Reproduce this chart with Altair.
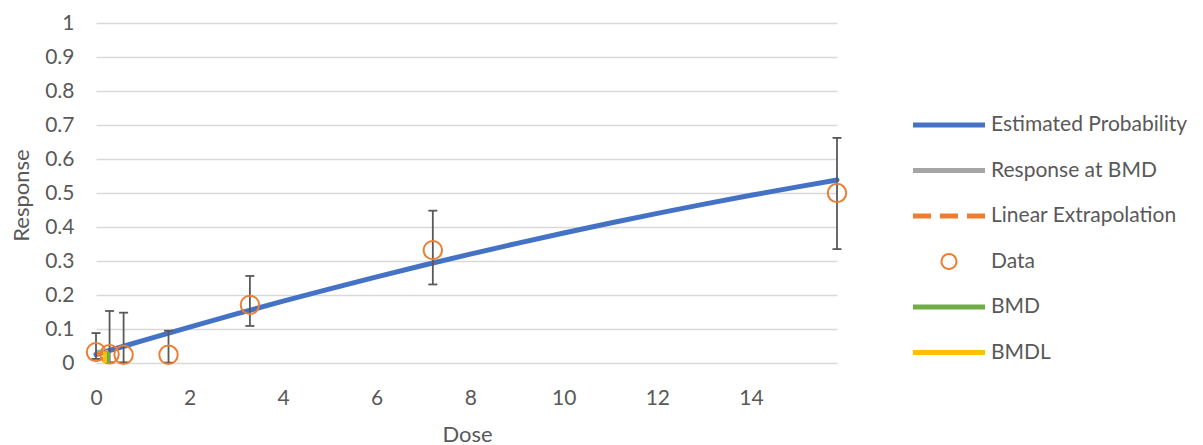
import altair as alt
import pandas as pd

# ---- observed data (dose-response) ----
data_dose = [0, 0.29, 0.59, 1.55, 3.29, 7.2, 15.84]
data_resp = [0.032, 0.026, 0.024, 0.024, 0.171, 0.332, 0.5]
data_lower = [0.012, 0.002, 0.002, 0.001, 0.109, 0.231, 0.335]
data_upper = [0.088, 0.153, 0.148, 0.095, 0.256, 0.448, 0.662]

# ---- fitted curve ----
curve_dose = [0, 0.5, 1, 2, 3, 4, 5, 6, 7, 8, 9, 10, 11, 12, 13, 14, 15, 15.84]
curve_resp = [0.025, 0.0456, 0.0659, 0.1057, 0.1444, 0.1818, 0.2182, 0.2533, 0.2874,
              0.3202, 0.3519, 0.3825, 0.4119, 0.4402, 0.4673, 0.4932, 0.5181, 0.538]

# ---- BMD markers ----
bmr_dose = [0, 0.26]
bmr_resp = [0.033, 0.033]
extrap_dose = [0, 0.19]
extrap_resp = [0.025, 0.033]
bmd_dose = [0.26, 0.26]
bmd_resp = [0, 0.033]
bmdl_dose = [0.19, 0.19]
bmdl_resp = [0, 0.033]

series_names = ["Estimated Probability", "Response at BMD", "Linear Extrapolation",
                "Data", "BMD", "BMDL"]
series_colors = ["#4472C4", "#A5A5A5", "#ED7D31", "#ED7D31", "#70AD47", "#FFC000"]

x_ticks = [0, 2, 4, 6, 8, 10, 12, 14]
y_ticks = [0, 0.1, 0.2, 0.3, 0.4, 0.5, 0.6, 0.7, 0.8, 0.9, 1]

FONT = "Lato"
TXT = "#595959"

# legend symbol shapes (style only)
LINE = "M-3,-0.2H3V0.2H-3Z"
DASH = "M-3,-0.2H-1.5V0.2H-3Z M-0.75,-0.2H0.75V0.2H-0.75Z M1.5,-0.2H3V0.2H1.5Z"
RING = ("M-0.708,0A0.708,0.708,0,1,1,0.708,0A0.708,0.708,0,1,1,-0.708,0Z "
        "M-0.542,0A0.542,0.542,0,1,0,0.542,0A0.542,0.542,0,1,0,-0.542,0Z")
series_shapes = [LINE, LINE, DASH, RING, LINE, LINE]

x_scale = alt.Scale(domain=[0, 15.84], nice=False, zero=False)
y_scale = alt.Scale(domain=[0, 1], nice=False)

x_axis = alt.Axis(values=x_ticks, grid=False, domain=False, ticks=False, tickSize=0,
                  labelFont=FONT, labelFontSize=21, labelColor=TXT, labelPadding=24,
                  labelFlush=False, labelOverlap=False,
                  titleFont=FONT, titleFontSize=22, titleColor=TXT, titleFontWeight="normal",
                  titleX=371, titleY=78, titleBaseline="alphabetic", titleAlign="center")
y_axis = alt.Axis(values=y_ticks, format="~g", grid=True, gridColor="#d9d9d9", gridWidth=1.3,
                  domain=False, ticks=False, tickSize=0,
                  labelFont=FONT, labelFontSize=21, labelColor=TXT, labelPadding=22,
                  labelFlush=False, labelOverlap=False,
                  titleFont=FONT, titleFontSize=22, titleColor=TXT, titleFontWeight="normal",
                  titleX=-68, titleY=172, titleBaseline="alphabetic", titleAlign="center",
                  titleAngle=270)


def X(field):
    return alt.X(f"{field}:Q", scale=x_scale, axis=x_axis, title="Dose")


def Y(field):
    return alt.Y(f"{field}:Q", scale=y_scale, axis=y_axis, title="Response")


def line_df(xs, ys):
    return pd.DataFrame({"dose": xs, "resp": ys, "o": list(range(len(xs)))})


pts = pd.DataFrame({"dose": data_dose, "resp": data_resp, "lo": data_lower, "hi": data_upper})

curve = alt.Chart(line_df(curve_dose, curve_resp)).mark_line(
    color="#4472C4", strokeWidth=5, strokeCap="round", interpolate="monotone").encode(
    x=X("dose"), y=Y("resp"), order="o:Q")

bmr = alt.Chart(line_df(bmr_dose, bmr_resp)).mark_line(
    color="#A5A5A5", strokeWidth=4).encode(x=X("dose"), y=Y("resp"), order="o:Q")

extrap = alt.Chart(line_df(extrap_dose, extrap_resp)).mark_line(
    color="#ED7D31", strokeWidth=4, strokeDash=[8, 4]).encode(x=X("dose"), y=Y("resp"), order="o:Q")

err = alt.Chart(pts).mark_rule(color="#595959", strokeWidth=1.8).encode(
    x=X("dose"), y=Y("lo"), y2="hi:Q")
cap_hi = alt.Chart(pts).mark_rule(color="#595959", strokeWidth=1.8, xOffset=-4.5, x2Offset=4.5).encode(
    x=X("dose"), x2="dose:Q", y=Y("hi"))
cap_lo = alt.Chart(pts).mark_rule(color="#595959", strokeWidth=1.8, xOffset=-4.5, x2Offset=4.5).encode(
    x=X("dose"), x2="dose:Q", y=Y("lo"))

circles = alt.Chart(pts).mark_point(shape="circle", filled=False, size=340, color="#ED7D31",
                                    strokeWidth=2, opacity=1).encode(x=X("dose"), y=Y("resp"))

bmd = alt.Chart(line_df(bmd_dose, bmd_resp)).mark_line(
    color="#70AD47", strokeWidth=4).encode(x=X("dose"), y=Y("resp"), order="o:Q")
bmdl = alt.Chart(line_df(bmdl_dose, bmdl_resp)).mark_line(
    color="#FFC000", strokeWidth=4).encode(x=X("dose"), y=Y("resp"), order="o:Q")

legend = alt.Legend(title=None, orient="none", legendX=841, legendY=90, direction="vertical",
                    labelFont=FONT, labelFontSize=21, labelColor=TXT, labelOffset=30,
                    rowPadding=23.5, symbolSize=576, symbolStrokeWidth=0, labelLimit=400)

leg_df = pd.DataFrame({"series": series_names})
leg = alt.Chart(leg_df).mark_point(filled=True, opacity=1, size=576, strokeWidth=0).encode(
    color=alt.Color("series:N", scale=alt.Scale(domain=series_names, range=series_colors), legend=legend),
    shape=alt.Shape("series:N", scale=alt.Scale(domain=series_names, range=series_shapes), legend=legend),
).transform_filter("datum.series == 'none'")

chart = alt.layer(curve, bmr, extrap, err, cap_hi, cap_lo, circles, bmd, bmdl, leg).properties(
    width=741, height=340,
    autosize=alt.AutoSizeParams(type="none"),
    padding={"left": 88, "top": 15, "right": 358, "bottom": 82},
).configure_view(stroke=None)

chart.save("out.html", embed_options={"renderer": "svg", "actions": False})
